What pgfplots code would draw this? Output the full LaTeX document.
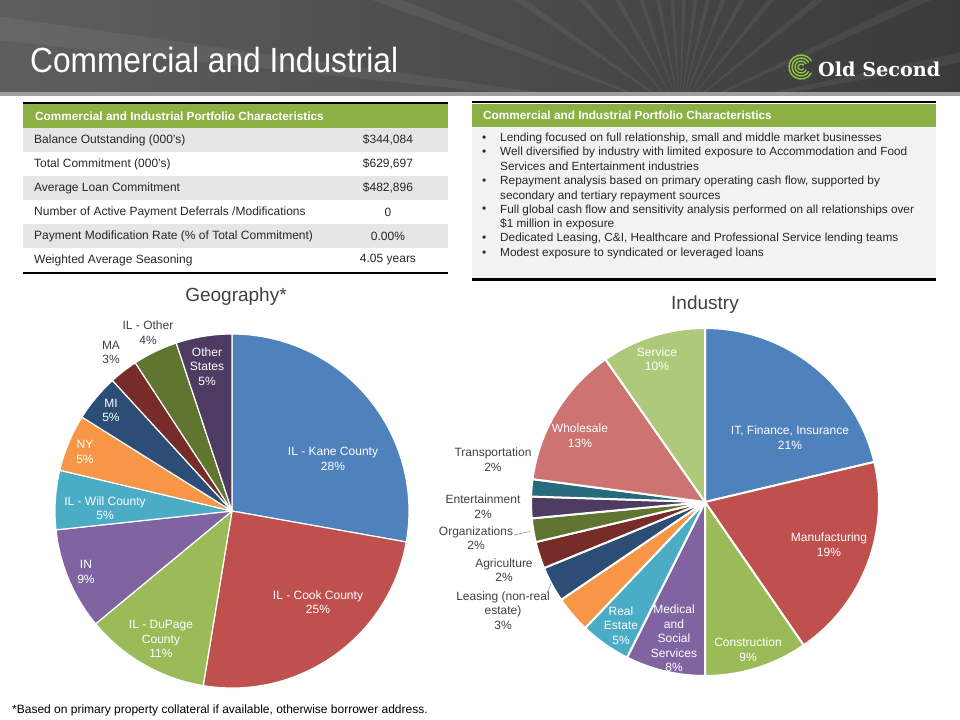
\documentclass[border=0pt]{standalone}
\usepackage{fontspec}
\setmainfont{Liberation Sans}
\newfontfamily\logofont{DejaVu Serif}
\usepackage{graphicx}
\usepackage{pgfplots}
\usepackage{pgfplotstable}
\pgfplotsset{compat=1.18}

\definecolor{oBlue}{HTML}{4F81BD}
\definecolor{oRed}{HTML}{C0504D}
\definecolor{oGreen}{HTML}{9BBB59}
\definecolor{oPurple}{HTML}{8064A2}
\definecolor{oAqua}{HTML}{4BACC6}
\definecolor{oOrange}{HTML}{F79646}
\definecolor{dBlue}{HTML}{2C4D75}
\definecolor{dRed}{HTML}{772C2A}
\definecolor{dGreen}{HTML}{5F7530}
\definecolor{dPurple}{HTML}{4D3B62}
\definecolor{dAqua}{HTML}{276A7C}
\definecolor{lRed}{HTML}{CD7371}
\definecolor{lGreen}{HTML}{AFC97A}
\definecolor{hdrGreen}{HTML}{8DB045}
\definecolor{rowGrey}{HTML}{E6E6E6}
\definecolor{boxGrey}{HTML}{F2F2F2}
\definecolor{txt}{HTML}{262626}
\definecolor{lbl}{HTML}{404040}
\definecolor{barL}{HTML}{5E5E5E}
\definecolor{barR}{HTML}{3A3A3A}
\definecolor{logoGreen}{HTML}{8CC63F}

% Geography shares (%), clockwise from 12 o'clock
\pgfplotstableread{
region value col
Kane 27.8 oBlue
Cook 24.8 oRed
DuPage 11.4 oGreen
IN 9.3 oPurple
Will 5.4 oAqua
NY 5.2 oOrange
MI 4.3 dBlue
MA 2.6 dRed
ILOther 4.1 dGreen
OtherStates 5.1 dPurple
}\geodata

% Industry shares (%), clockwise from 12 o'clock
\pgfplotstableread{
sector value col
IT 21.3 oBlue
Manufacturing 19.1 oRed
Construction 9.6 oGreen
Medical 7.4 oPurple
RealEstate 4.7 oAqua
SliceF 3.4 oOrange
SliceG 3.3 dBlue
SliceH 2.5 dRed
SliceI 2.2 dGreen
SliceJ 2.0 dPurple
SliceK 1.6 dAqua
Wholesale 13.2 lRed
Service 9.7 lGreen
}\inddata

\newcommand\piechart[3]{%
 \pgfplotsextra{%
  \pgfplotstablegetrowsof{#1}%
  \pgfmathtruncatemacro\pieN{\pgfplotsretval-1}%
  \def\piecum{0}%
  \pgfplotsforeachungrouped \pieI in {0,...,\pieN}{%
    \pgfplotstablegetelem{\pieI}{value}\of{#1}\let\pieval\pgfplotsretval
    \pgfplotstablegetelem{\pieI}{col}\of{#1}\let\piecol\pgfplotsretval
    \pgfmathsetmacro\pieA{90-3.6*\piecum}%
    \pgfmathsetmacro\piecum{\piecum+\pieval}%
    \pgfmathsetmacro\pieB{90-3.6*\piecum}%
    \fill[fill=\piecol, draw=white, line width=#3, line join=round]
      (axis cs:0,0) -- (axis cs:{#2*cos(\pieA)},{#2*sin(\pieA)})
      arc[start angle=\pieA, end angle=\pieB, radius=#2bp] -- cycle;
  }%
 }%
}

\begin{document}
\begin{tikzpicture}
\useasboundingbox (0,0) rectangle (960bp,-720bp);
\begin{scope}[x=1bp,y=-1bp]
 % title bar
 \shade[left color=barL, right color=barR] (0,0) rectangle (960,92);
 \begin{scope}
  \clip (0,0) rectangle (960,92);
  \foreach \a in {186,200,214,228,240,250,258,265,271,277,283,290,298,308,320,334,348}{
    \fill[white, opacity=0.06] (680,112) -- ++(\a:1300) -- ++(\a+90:45) -- cycle;
  }
 \end{scope}
 \fill[gray!75] (0,92) rectangle (960,96);
 \node[anchor=base west, white, inner sep=0pt, font=\fontsize{35bp}{40bp}\selectfont]
   at (30,72.5) {\scalebox{0.905}[1]{Commercial and Industrial}};
 % logo
 \foreach \r in {3,6,9,12}{
   \draw[logoGreen, line width=1.4bp] (801,67) ++(30:\r) arc[start angle=30, end angle=330, radius=\r];
 }
 \node[anchor=base west, white, inner sep=0pt] at (818,76)
   {\resizebox{122bp}{!}{\logofont\bfseries Old Second}};

 % left table
 \fill[hdrGreen] (23,104) rectangle (448,128);
 \foreach \yy in {128,176,224}{\fill[rowGrey] (23,\yy) rectangle (448,\yy+24);}
 \draw[black, line width=2.6bp] (23,103) -- (448,103);
 \draw[black, line width=2.6bp] (23,273) -- (448,273);
 \node[anchor=west, white, inner sep=0pt, font=\fontsize{11.8bp}{13bp}\selectfont\bfseries]
   at (35,116) {Commercial and Industrial Portfolio Characteristics};
 \begin{scope}[every node/.style={inner sep=0pt, text=txt, font=\fontsize{12bp}{14bp}\selectfont}]
  \node[anchor=west] at (34,140) {Balance Outstanding (000’s)};
  \node[anchor=west] at (34,164) {Total Commitment (000’s)};
  \node[anchor=west] at (34,188) {Average Loan Commitment};
  \node[anchor=west] at (34,212) {Number of Active Payment Deferrals /Modifications};
  \node[anchor=west] at (34,236) {Payment Modification Rate (\% of Total Commitment)};
  \node[anchor=west] at (34,260) {Weighted Average Seasoning};
  \node at (388,140) {\$344,084};
  \node at (388,164) {\$629,697};
  \node at (388,188) {\$482,896};
  \node at (388,212) {0};
  \node at (388,236) {0.00\%};
  \node at (388,260) {4.05 years};
 \end{scope}

 % right table
 \fill[hdrGreen] (472,103.5) rectangle (936,126.5);
 \fill[boxGrey] (472,126.5) rectangle (936,278.5);
 \draw[black, line width=2.6bp] (472,102) -- (936,102);
 \draw[black, line width=2.6bp] (472,279.5) -- (936,279.5);
 \node[anchor=west, white, inner sep=0pt, font=\fontsize{11.8bp}{13bp}\selectfont\bfseries]
   at (483,115) {Commercial and Industrial Portfolio Characteristics};
 \begin{scope}[every node/.style={anchor=west, inner sep=0pt, text=txt, font=\fontsize{11.8bp}{13bp}\selectfont}]
  \foreach \yy in {138.3,152.7,181.7,210,238.3,253.3}{\node at (482,\yy) {•};}
  \node at (500,138.3) {Lending focused on full relationship, small and middle market businesses};
  \node at (500,152.7) {Well diversified by industry with limited exposure to Accommodation and Food};
  \node at (500,166.7) {Services and Entertainment industries};
  \node at (500,181.7) {Repayment analysis based on primary operating cash flow, supported by};
  \node at (500,196) {secondary and tertiary repayment sources};
  \node at (500,210) {Full global cash flow and sensitivity analysis performed on all relationships over};
  \node at (500,224.3) {\$1 million in exposure};
  \node at (500,238.3) {Dedicated Leasing, C\&I, Healthcare and Professional Service lending teams};
  \node at (500,253.3) {Modest exposure to syndicated or leveraged loans};
 \end{scope}

 % chart titles
 \node[anchor=base, inner sep=0pt, text=lbl, font=\fontsize{19bp}{22bp}\selectfont] at (236,301.5) {Geography*};
 \node[anchor=base, inner sep=0pt, text=lbl, font=\fontsize{19bp}{22bp}\selectfont] at (705,309.5) {Industry};
 \node[anchor=west, inner sep=0pt, font=\fontsize{12bp}{14bp}\selectfont] at (12,710)
   {*Based on primary property collateral if available, otherwise borrower address.};
\end{scope}

\begin{axis}[at={(232bp,-511bp)}, anchor=origin, x=1bp, y=1bp,
  xmin=-180, xmax=180, ymin=-180, ymax=180, hide axis, clip=false]
 \piechart{\geodata}{177}{1.2bp}
\end{axis}

\begin{axis}[at={(705bp,-502bp)}, anchor=origin, x=1bp, y=1bp,
  xmin=-180, xmax=180, ymin=-180, ymax=180, hide axis, clip=false]
 \piechart{\inddata}{174}{2bp}
\end{axis}

\begin{scope}[x=1bp,y=-1bp, every node/.style={align=center, inner sep=0pt, font=\fontsize{12bp}{14.5bp}\selectfont}]
 % geography labels
 \node[white] at (333,459) {IL - Kane County\\28\%};
 \node[white] at (318,602) {IL - Cook County\\25\%};
 \node[white] at (161,639) {IL - DuPage\\County\\11\%};
 \node[white] at (86,572) {IN\\9\%};
 \node[white] at (105,508) {IL - Will County\\5\%};
 \node[white] at (85,452) {NY\\5\%};
 \node[white] at (111,410.5) {MI\\5\%};
 \node[text=lbl] at (111,352.5) {MA\\3\%};
 \node[text=lbl] at (148,332.5) {IL - Other\\4\%};
 \node[white] at (207,366.5) {Other\\States\\5\%};
 % industry labels
 \node[white] at (657,359) {Service\\10\%};
 \node[white] at (580,435.5) {Wholesale\\13\%};
 \node[white] at (790,437.5) {IT, Finance, Insurance\\21\%};
 \node[white] at (829,544.7) {Manufacturing\\19\%};
 \node[white] at (748,649.7) {Construction\\9\%};
 \node[white] at (674,638.3) {Medical\\and\\Social\\Services\\8\%};
 \node[white] at (621,625.5) {Real\\Estate\\5\%};
 \node[text=lbl] at (503,610.5) {Leasing (non-real\\estate)\\3\%};
 \node[text=lbl] at (504,570) {Agriculture\\2\%};
 \node[text=lbl] at (476,538.3) {Organizations\\2\%};
 \node[text=lbl] at (483,506.7) {Entertainment\\2\%};
 \node[text=lbl] at (493,459.7) {Transportation\\2\%};
 \draw[gray, line width=0.5bp] (514,535) -- (530,531.5);
 \draw[gray, line width=0.5bp] (547,593) -- (551,584);
\end{scope}
\end{tikzpicture}
\end{document}
